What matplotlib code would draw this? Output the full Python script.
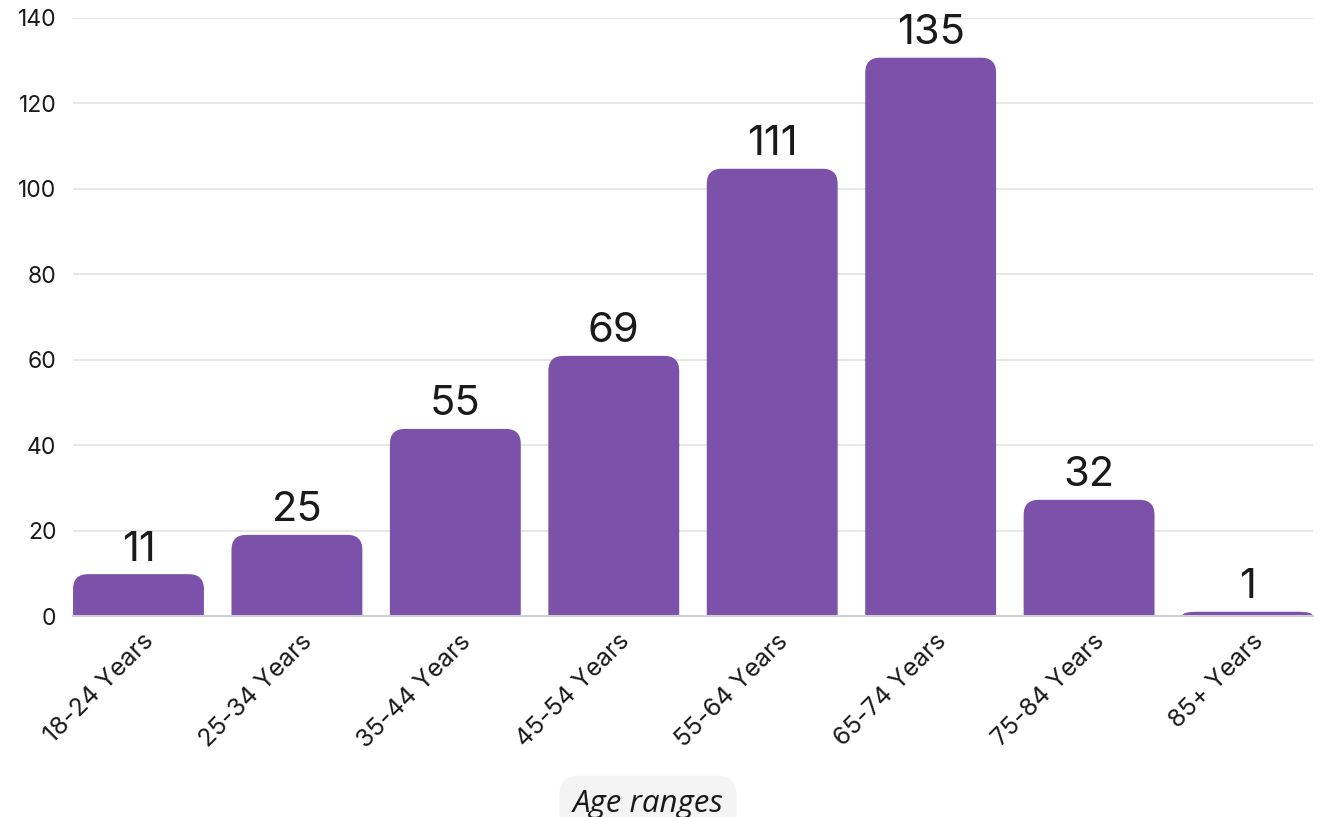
import matplotlib
matplotlib.use('Agg')
import matplotlib.pyplot as plt
import matplotlib.transforms as mtransforms
from matplotlib.path import Path
from matplotlib.patches import PathPatch

# Данные
categories = ['18-24 Years', '25-34 Years', '35-44 Years', '45-54 Years',
              '55-64 Years', '65-74 Years', '75-84 Years', '85+ Years']
bar_heights = [9.8, 19.0, 43.8, 60.9, 104.7, 130.7, 27.2, 1.0]   # высота столбцов по картинке
value_labels = [11, 25, 55, 69, 111, 135, 32, 1]                 # подписи над столбцами
yticks = [0, 20, 40, 60, 80, 100, 120, 140]

BAR_COLOR = '#7B51A9'
GRID_COLOR = '#E3E3E3'
TEXT_COLOR = '#1A1A1A'
FONT = ['Inter', 'DejaVu Sans']

fig = plt.figure(figsize=(13.21, 8.17), dpi=100)
ax = fig.add_axes([0.0553, 0.246, 0.9386, 0.732])

x = list(range(len(categories)))
bars = ax.bar(x, bar_heights, width=0.826, color=BAR_COLOR, zorder=2)
ax.set_xlim(-0.413, len(categories) - 1 + 0.413)
ax.set_ylim(0, 140)

# Скруглённые верхние углы: радиус ~15 px
fig.canvas.draw()
px_x = ax.transData.transform((1, 0))[0] - ax.transData.transform((0, 0))[0]
px_y = ax.transData.transform((0, 1))[1] - ax.transData.transform((0, 0))[1]
r_px = 15
for b in bars:
    x0, w, h = b.get_x(), b.get_width(), b.get_height()
    x1 = x0 + w
    rx = r_px / px_x
    ry = min(r_px / px_y, h)
    verts = [(x0, 0), (x0, h - ry), (x0, h), (x0 + rx, h),
             (x1 - rx, h), (x1, h), (x1, h - ry), (x1, 0), (x0, 0)]
    codes = [Path.MOVETO, Path.LINETO, Path.CURVE3, Path.CURVE3,
             Path.LINETO, Path.CURVE3, Path.CURVE3, Path.LINETO, Path.CLOSEPOLY]
    ax.add_patch(PathPatch(Path(verts, codes), facecolor=BAR_COLOR,
                           edgecolor='none', zorder=2))
    b.set_visible(False)

# Подписи значений
for b, lab in zip(bars, value_labels):
    ax.annotate(str(lab), (b.get_x() + b.get_width() / 2, b.get_height()),
                xytext=(0, 4), textcoords='offset points',
                ha='center', va='bottom', fontsize=30, color=TEXT_COLOR,
                family=FONT)

# Сетка и оси
ax.set_yticks(yticks)
ax.yaxis.grid(True, color=GRID_COLOR, linewidth=1.2, zorder=0)
ax.set_axisbelow(True)
for s in ['top', 'right', 'left']:
    ax.spines[s].set_visible(False)
ax.spines['bottom'].set_color('#D0D0D0')
ax.spines['bottom'].set_linewidth(1.5)
ax.tick_params(axis='both', length=0, colors=TEXT_COLOR)
ax.tick_params(axis='y', pad=12, labelsize=16.5)
for t in ax.get_yticklabels():
    t.set_family(FONT)

ax.set_xticks(x)
ax.set_xticklabels(categories, rotation=45, ha='right', rotation_mode='anchor',
                   fontsize=18, family=FONT)
ax.tick_params(axis='x', pad=10)
shift = mtransforms.ScaledTranslation(4 / 100, 0, fig.dpi_scale_trans)
for t in ax.get_xticklabels():
    t.set_transform(t.get_transform() + shift)

# Подпись оси X в плашке
fig.text(0.4905, 0.016, 'Age ranges', ha='center', va='center',
         fontsize=22.5, style='italic', family=['Open Sans', 'DejaVu Sans'],
         color=TEXT_COLOR,
         bbox=dict(boxstyle='round,pad=0.42,rounding_size=0.6',
                   facecolor='#F4F4F4', edgecolor='none'))

fig.savefig('out.png', dpi=100)
